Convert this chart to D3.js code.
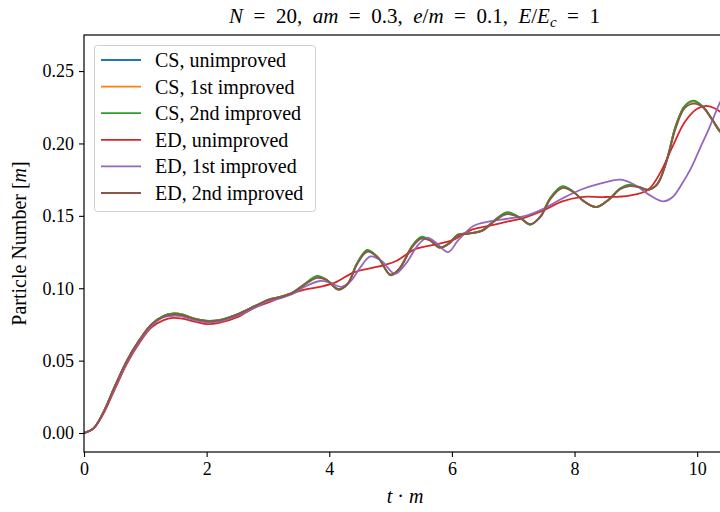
<!DOCTYPE html>
<html>
<head>
<meta charset="utf-8">
<script src="https://cdn.jsdelivr.net/npm/d3@7"></script>
<style>
  html, body { margin: 0; padding: 0; background: #fff; }
  svg { display: block; }
  text { font-family: "Liberation Serif", "DejaVu Serif", serif; fill: #000; }
</style>
</head>
<body>
<svg id="chart" width="720" height="512"></svg>
<script>
// ---------- data ----------
const seriesNames = ["CS, unimproved", "CS, 1st improved", "CS, 2nd improved",
                     "ED, unimproved", "ED, 1st improved", "ED, 2nd improved"];
const seriesColors = ["#1f77b4", "#ff7f0e", "#2ca02c", "#d62728", "#9467bd", "#8c564b"];

const tCS = [0, 0.15, 0.3, 0.5, 0.7, 0.9, 1.1, 1.3, 1.45, 1.6, 1.8, 2.0, 2.2, 2.5, 2.8, 3.0, 3.2, 3.4, 3.6, 3.8,
  3.95, 4.15, 4.3, 4.45, 4.62, 4.8, 5.0, 5.15, 5.35, 5.5, 5.65, 5.8, 5.95, 6.1, 6.3, 6.5, 6.7, 6.9, 7.1, 7.28,
  7.45, 7.6, 7.8, 8.0, 8.15, 8.35, 8.55, 8.75, 8.9, 9.05, 9.2, 9.35, 9.5, 9.65, 9.8, 9.95, 10.1, 10.25, 10.4, 10.6, 10.8];
const csUnimproved = [0, 0.003, 0.013, 0.032, 0.050, 0.064, 0.075, 0.081, 0.0825, 0.082, 0.079, 0.0775, 0.078, 0.082, 0.088, 0.092, 0.094, 0.097, 0.103, 0.108,
  0.106, 0.099, 0.103, 0.117, 0.126, 0.121, 0.109, 0.114, 0.129, 0.135, 0.133, 0.128, 0.131, 0.137, 0.138, 0.140, 0.147, 0.152, 0.149, 0.144,
  0.150, 0.162, 0.170, 0.166, 0.160, 0.156, 0.161, 0.169, 0.171, 0.170, 0.168, 0.172, 0.188, 0.212, 0.226, 0.229, 0.225, 0.216, 0.207, 0.204, 0.215];
const cs1stImproved = [0, 0.003, 0.013, 0.032, 0.050, 0.064, 0.075, 0.081, 0.0825, 0.082, 0.079, 0.0775, 0.078, 0.082, 0.088, 0.092, 0.094, 0.097, 0.103, 0.108,
  0.106, 0.099, 0.103, 0.117, 0.126, 0.121, 0.109, 0.114, 0.129, 0.135, 0.133, 0.128, 0.131, 0.137, 0.138, 0.140, 0.147, 0.152, 0.149, 0.144,
  0.150, 0.162, 0.170, 0.166, 0.160, 0.156, 0.161, 0.169, 0.171, 0.170, 0.168, 0.172, 0.188, 0.212, 0.226, 0.229, 0.225, 0.216, 0.207, 0.204, 0.215];
const cs2ndImproved = [0, 0.003, 0.013, 0.032, 0.050, 0.064, 0.075, 0.081, 0.0826, 0.082, 0.079, 0.0776, 0.078, 0.082, 0.088, 0.092, 0.094, 0.097, 0.103, 0.1085,
  0.106, 0.099, 0.103, 0.117, 0.1265, 0.121, 0.109, 0.114, 0.129, 0.1355, 0.133, 0.128, 0.131, 0.137, 0.138, 0.140, 0.147, 0.1525, 0.149, 0.144,
  0.150, 0.162, 0.1705, 0.166, 0.160, 0.156, 0.161, 0.169, 0.1715, 0.170, 0.168, 0.172, 0.188, 0.212, 0.226, 0.2295, 0.225, 0.216, 0.207, 0.204, 0.215];
const ed2ndImproved = [0, 0.003, 0.013, 0.032, 0.050, 0.064, 0.075, 0.0805, 0.082, 0.0815, 0.0788, 0.0772, 0.0778, 0.0818, 0.0878, 0.0918, 0.0938, 0.0968, 0.1025, 0.1072,
  0.1058, 0.0995, 0.1028, 0.1162, 0.1252, 0.1208, 0.1095, 0.1138, 0.1282, 0.1342, 0.1328, 0.1282, 0.1305, 0.1365, 0.1378, 0.1398, 0.1465, 0.1512, 0.1488, 0.1443,
  0.1495, 0.1612, 0.1692, 0.1658, 0.1602, 0.1562, 0.1608, 0.1685, 0.1705, 0.1698, 0.1682, 0.1718, 0.1872, 0.2105, 0.2245, 0.2275, 0.2248, 0.2165, 0.2078, 0.2045, 0.214];

const tEDu = [0, 0.15, 0.3, 0.5, 0.7, 0.9, 1.1, 1.3, 1.45, 1.6, 1.8, 2.0, 2.2, 2.5, 2.8, 3.0, 3.3, 3.6, 3.85, 4.1, 4.4, 4.7, 4.9, 5.1,
  5.4, 5.7, 6.0, 6.3, 6.6, 6.9, 7.2, 7.5, 7.8, 8.1, 8.5, 8.9, 9.2, 9.4, 9.6, 9.8, 10.0, 10.15, 10.3, 10.5, 10.8];
const edUnimproved = [0, 0.003, 0.012, 0.030, 0.048, 0.062, 0.073, 0.078, 0.0795, 0.079, 0.077, 0.0752, 0.076, 0.080, 0.087, 0.090, 0.095, 0.099, 0.101, 0.104,
  0.111, 0.114, 0.116, 0.119, 0.127, 0.130, 0.133, 0.140, 0.143, 0.146, 0.149, 0.154, 0.160, 0.163, 0.163, 0.164, 0.168, 0.180, 0.198, 0.215,
  0.224, 0.226, 0.224, 0.218, 0.212];

const tED1 = [0, 0.15, 0.3, 0.5, 0.7, 0.9, 1.1, 1.3, 1.45, 1.6, 1.8, 2.0, 2.2, 2.5, 2.8, 3.0, 3.2, 3.4, 3.6, 3.85, 4.0, 4.2, 4.35, 4.5,
  4.67, 4.85, 5.07, 5.25, 5.45, 5.6, 5.75, 5.94, 6.1, 6.35, 6.6, 6.9, 7.2, 7.5, 7.8, 8.1, 8.4, 8.75, 9.0, 9.2, 9.45, 9.6, 9.75,
  9.9, 10.05, 10.2, 10.38, 10.5, 10.8];
const ed1stImproved = [0, 0.003, 0.013, 0.031, 0.049, 0.063, 0.074, 0.080, 0.081, 0.0805, 0.078, 0.0765, 0.077, 0.081, 0.087, 0.091, 0.093, 0.096, 0.101, 0.105,
  0.104, 0.101, 0.105, 0.114, 0.122, 0.119, 0.110, 0.117, 0.130, 0.135, 0.131, 0.125, 0.133, 0.143, 0.146, 0.148, 0.150, 0.155, 0.162, 0.168, 0.172, 0.175,
  0.171, 0.165, 0.160, 0.163, 0.172, 0.183, 0.197, 0.211, 0.229, 0.238, 0.250];

const xTicks = [0, 2, 4, 6, 8, 10];
const yTicks = [0.00, 0.05, 0.10, 0.15, 0.20, 0.25];

const seriesT = [tCS, tCS, tCS, tEDu, tED1, tCS];
const seriesV = [csUnimproved, cs1stImproved, cs2ndImproved, edUnimproved, ed1stImproved, ed2ndImproved];

// ---------- layout ----------
const svg = d3.select("#chart");
const L = 84, R = 745, T = 35, B = 452;
const x = d3.scaleLinear().domain([0, 10.78]).range([L, R]);
const y = d3.scaleLinear().domain([-0.0131, 0.2749]).range([B, T]);

svg.append("defs").append("clipPath").attr("id", "clip")
  .append("rect").attr("x", L).attr("y", T).attr("width", R - L).attr("height", B - T);

// lines
const line = d3.line().x(d => x(d[0])).y(d => y(d[1])).curve(d3.curveCatmullRom.alpha(0.5));
const lines = svg.append("g").attr("clip-path", "url(#clip)");
seriesV.forEach((vals, i) => {
  const pts = seriesT[i].map((t, k) => [t, vals[k]]);
  lines.append("path").attr("d", line(pts)).attr("fill", "none")
    .attr("stroke", seriesColors[i]).attr("stroke-width", 1.8)
    .attr("stroke-linejoin", "round").attr("stroke-linecap", "round");
});

// axes
const xAxis = svg.append("g").attr("transform", `translate(0,${B})`)
  .call(d3.axisBottom(x).tickValues(xTicks).tickFormat(d3.format("d")).tickSize(5).tickPadding(5));
const yAxis = svg.append("g").attr("transform", `translate(${L},0)`)
  .call(d3.axisLeft(y).tickValues(yTicks).tickFormat(d3.format(".2f")).tickSize(5).tickPadding(5));
[xAxis, yAxis].forEach(g => {
  g.select(".domain").remove();
  g.selectAll(".tick line").attr("stroke", "#000").attr("stroke-width", 1.1);
  g.selectAll(".tick text").style("font-family", '"Liberation Serif", serif').style("font-size", "18px").attr("fill", "#000");
});

// spines
svg.append("rect").attr("x", L).attr("y", T).attr("width", R - L).attr("height", B - T)
  .attr("fill", "none").attr("stroke", "#000").attr("stroke-width", 1.2);

// legend
const leg = svg.append("g");
leg.append("rect").attr("x", 94.5).attr("y", 45.5).attr("width", 221).attr("height", 166)
  .attr("rx", 3).attr("fill", "#fff").attr("fill-opacity", 0.8).attr("stroke", "#d0d0d0").attr("stroke-width", 1);
seriesNames.forEach((name, i) => {
  const yy = 60 + i * 26.6;
  leg.append("line").attr("x1", 101).attr("x2", 141).attr("y1", yy).attr("y2", yy)
    .attr("stroke", seriesColors[i]).attr("stroke-width", 1.8);
  leg.append("text").attr("x", 155).attr("y", yy).attr("dy", "0.35em")
    .style("font-size", "20px").text(name);
});

// title
const title = svg.append("text").attr("x", (L + R) / 2).attr("y", 23).attr("text-anchor", "middle").style("font-size", "21px");
const parts = [["N", 1], ["\u2002=\u200220,\u2002", 0], ["am", 1], ["\u2002=\u20020.3,\u2002", 0], ["e", 1], ["/", 0], ["m", 1], ["\u2002=\u20020.1,\u2002", 0],
               ["E", 1], ["/", 0], ["E", 1], ["c", 2], ["\u2002=\u20021", 0]];
parts.forEach(([s, k]) => {
  const ts = title.append("tspan").text(s);
  if (k >= 1) ts.style("font-style", "italic");
  if (k === 2) ts.attr("dy", 4).style("font-size", "15px");
  else if (s.startsWith("\u2002=\u20021")) ts.attr("dy", -4);
});

// x label
const xl = svg.append("text").attr("x", 405).attr("y", 503).attr("text-anchor", "middle").style("font-size", "20px");
xl.append("tspan").style("font-style", "italic").text("t");
xl.append("tspan").text(" · ");
xl.append("tspan").style("font-style", "italic").text("m");

// y label
const yl = svg.append("text").attr("transform", `translate(26,${(T + B) / 2}) rotate(-90)`)
  .attr("text-anchor", "middle").style("font-size", "20px");
yl.append("tspan").text("Particle Number [");
yl.append("tspan").style("font-style", "italic").text("m");
yl.append("tspan").text("]");
</script>
</body>
</html>
